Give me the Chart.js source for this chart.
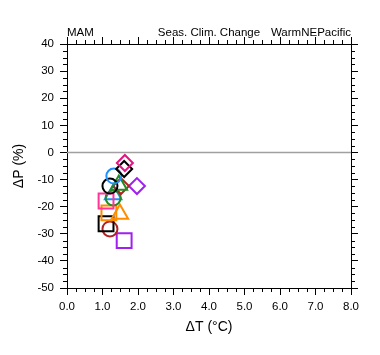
<!DOCTYPE html>
<html>
<head>
<meta charset="utf-8">
<script src="https://cdn.jsdelivr.net/npm/chart.js@4/dist/chart.umd.min.js"></script>
<style>
html,body{margin:0;padding:0;background:#fff;}
canvas{display:block;}
</style>
</head>
<body>
<canvas id="c" width="380" height="355"></canvas>
<script>
// ---- data ----
const deltaT = [1.63, 1.61, 1.32, 1.21, 1.46, 1.52, 1.97, 1.10, 1.30, 1.30, 1.18, 1.49, 1.10, 1.21, 1.61];
const deltaP = [-3.9, -6.1, -8.7, -12.4, -12.0, -12.4, -12.4, -17.9, -16.8, -15.5, -22.3, -22.7, -26.3, -28.2, -32.5];
const markerStyle = ['rectRot','rectRot','circle','circle','triangle','rectRot','rectRot','rect','circle','triangle','rect','triangle','rect','circle','rect'];
const markerColor = ['#e0157f','#000000','#1e90ff','#000000','#228b22','#b22222','#a020f0','#ff3399','#228b22','#1e90ff','#ff8c00','#ff8c00','#000000','#b22222','#a020f0'];
const xTickValues = [0,1,2,3,4,5,6,7,8];
const yTickValues = [-50,-40,-30,-20,-10,0,10,20,30,40];
const titleLeft = 'MAM';
const titleCenter = 'Seas. Clim. Change';
const titleRight = 'WarmNEPacific';
const xTitle = '\u0394T (\u00b0C)';
const yTitle = '\u0394P (%)';

const FONT = "'Liberation Sans', Arial, Helvetica, sans-serif";
const radiusFor = {circle: 7.5, rect: 10.5, rectRot: 8, triangle: 9.5};

const datasets = deltaT.map((t, i) => ({
  data: [{x: t, y: deltaP[i]}],
  pointStyle: markerStyle[i],
  pointRadius: radiusFor[markerStyle[i]],
  pointHoverRadius: radiusFor[markerStyle[i]],
  borderColor: markerColor[i],
  backgroundColor: 'rgba(0,0,0,0)',
  pointBorderWidth: 2,
  borderWidth: 2
}));

const extras = {
  id: 'extras',
  beforeDatasetsDraw(chart) {
    const {ctx, chartArea, scales} = chart;
    const y0 = scales.y.getPixelForValue(0);
    ctx.save();
    ctx.strokeStyle = '#a0a0a0';
    ctx.lineWidth = 1.5;
    ctx.beginPath();
    ctx.moveTo(chartArea.left, y0);
    ctx.lineTo(chartArea.right, y0);
    ctx.stroke();
    ctx.restore();
  },
  afterDraw(chart) {
    const {ctx, chartArea, scales} = chart;
    ctx.save();
    ctx.strokeStyle = '#000';
    ctx.lineWidth = 1;
    const mlen = 4;
    ctx.beginPath();
    for (let v = 0; v <= 8.0001; v += 0.25) {
      if (Math.abs(v - Math.round(v)) < 1e-6) continue;
      const px = Math.round(scales.x.getPixelForValue(v)) + 0.5;
      ctx.moveTo(px, chartArea.bottom); ctx.lineTo(px, chartArea.bottom + mlen);
      ctx.moveTo(px, chartArea.top); ctx.lineTo(px, chartArea.top - mlen);
    }
    for (let v = -50; v <= 40.0001; v += 2.5) {
      if (Math.abs(v / 10 - Math.round(v / 10)) < 1e-6) continue;
      const py = Math.round(scales.y.getPixelForValue(v)) + 0.5;
      ctx.moveTo(chartArea.left, py); ctx.lineTo(chartArea.left - mlen, py);
      ctx.moveTo(chartArea.right, py); ctx.lineTo(chartArea.right + mlen, py);
    }
    ctx.stroke();
    ctx.fillStyle = '#000';
    ctx.font = '11.5px ' + FONT;
    ctx.textBaseline = 'alphabetic';
    const by = chartArea.top - 8;
    ctx.textAlign = 'left';
    ctx.fillText(titleLeft, chartArea.left, by);
    ctx.textAlign = 'center';
    ctx.fillText(titleCenter, (chartArea.left + chartArea.right) / 2, by);
    ctx.textAlign = 'right';
    ctx.fillText(titleRight, chartArea.right, by);
    ctx.restore();
  }
};

const tickFont = {family: FONT, size: 11.5};
const gridCommon = {drawOnChartArea: false, drawTicks: true, tickLength: 7, color: '#000', lineWidth: 1};
const borderCommon = {display: true, color: '#000', width: 1};

new Chart(document.getElementById('c'), {
  type: 'scatter',
  data: {datasets},
  options: {
    responsive: false,
    animation: false,
    events: [],
    layout: {padding: 0},
    plugins: {legend: {display: false}, tooltip: {enabled: false}},
    scales: {
      x: {
        type: 'linear', position: 'bottom', min: 0, max: 8,
        afterBuildTicks: s => { s.ticks = xTickValues.map(v => ({value: v})); },
        ticks: {font: tickFont, color: '#000', padding: 5, maxRotation: 0,
                callback: v => Number(v).toFixed(1)},
        grid: gridCommon, border: borderCommon,
        title: {display: true, text: xTitle, color: '#000',
                font: {family: FONT, size: 14}, padding: {top: 0, bottom: 19}},
        afterFit: s => { s.height = 67; }
      },
      x2: {
        type: 'linear', position: 'top', min: 0, max: 8,
        afterBuildTicks: s => { s.ticks = xTickValues.map(v => ({value: v})); },
        ticks: {display: false},
        grid: gridCommon, border: borderCommon,
        afterFit: s => { s.height = 44; }
      },
      y: {
        type: 'linear', position: 'left', min: -50, max: 40,
        afterBuildTicks: s => { s.ticks = yTickValues.map(v => ({value: v})); },
        ticks: {font: tickFont, color: '#000', padding: 6},
        grid: gridCommon, border: borderCommon,
        title: {display: true, text: yTitle, color: '#000',
                font: {family: FONT, size: 14}, padding: {top: 11, bottom: 0}},
        afterFit: s => { s.width = 67; }
      },
      y2: {
        type: 'linear', position: 'right', min: -50, max: 40,
        afterBuildTicks: s => { s.ticks = yTickValues.map(v => ({value: v})); },
        ticks: {display: false},
        grid: gridCommon, border: borderCommon,
        afterFit: s => { s.width = 29; }
      }
    }
  },
  plugins: [extras]
});
</script>
</body>
</html>
